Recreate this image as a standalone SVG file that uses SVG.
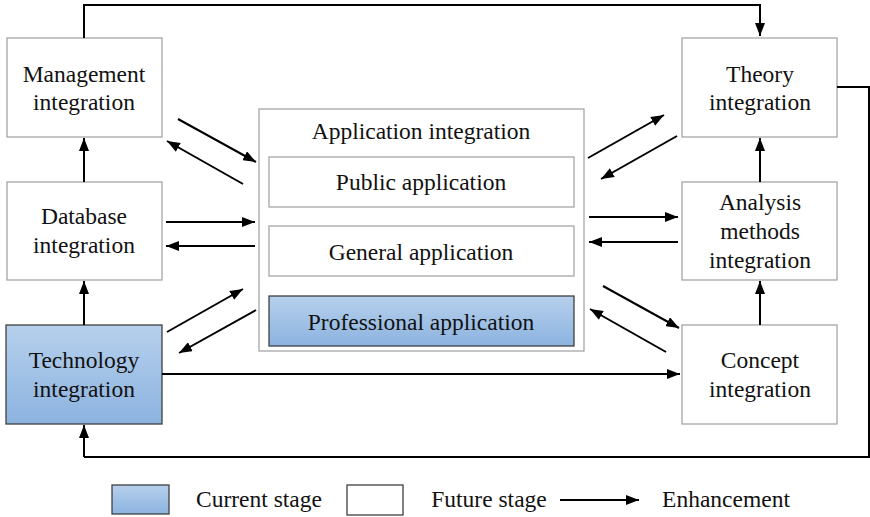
<svg xmlns="http://www.w3.org/2000/svg" width="870" height="517" viewBox="0 0 870 517">
<defs>
<linearGradient id="blue" x1="0" y1="0" x2="0" y2="1">
<stop offset="0" stop-color="#B6D0EC"/>
<stop offset="1" stop-color="#8CB3E0"/>
</linearGradient>
<marker id="ah" viewBox="0 0 13 10" refX="13" refY="5" markerWidth="13" markerHeight="10" markerUnits="userSpaceOnUse" orient="auto">
<path d="M0,0 L13,5 L0,10 z" fill="#000"/>
</marker>
<style>
.box{fill:#fff;stroke:#a6a6a6;stroke-width:1.3}
.cur{fill:url(#blue);stroke:#404040;stroke-width:1.3}
text{font-family:"Liberation Serif","Times New Roman",serif;font-size:23.5px;fill:#111;text-anchor:middle}
.c line,.c path{stroke:#000;stroke-width:2;fill:none}
.a{marker-end:url(#ah)}
</style>
</defs>
<rect width="870" height="517" fill="#fff"/>

<g id="management"><rect class="box" x="7" y="38" width="155" height="99"/><text x="84" y="82">Management</text><text x="84" y="110">integration</text></g>
<g id="database"><rect class="box" x="7" y="182" width="155" height="98"/><text x="84" y="224">Database</text><text x="84" y="253">integration</text></g>
<g id="technology"><rect class="cur" x="6" y="325" width="156" height="99"/><text x="84" y="368">Technology</text><text x="84" y="397">integration</text></g>
<g id="theory"><rect class="box" x="682" y="38" width="155" height="99"/><text x="760" y="82">Theory</text><text x="760" y="110">integration</text></g>
<g id="analysis"><rect class="box" x="682" y="182" width="155" height="98"/><text x="760" y="210">Analysis</text><text x="760" y="239">methods</text><text x="760" y="268">integration</text></g>
<g id="concept"><rect class="box" x="682" y="325" width="155" height="99"/><text x="760" y="368">Concept</text><text x="760" y="397">integration</text></g>
<g id="application"><rect class="box" x="259" y="109" width="325" height="242"/><text x="421" y="139">Application integration</text>
<g id="public"><rect class="box" x="269" y="157" width="305" height="50"/><text x="421" y="190">Public application</text></g>
<g id="general"><rect class="box" x="269" y="226" width="305" height="50"/><text x="421" y="260">General application</text></g>
<g id="professional"><rect class="cur" x="269" y="296" width="305" height="50"/><text x="421" y="330">Professional application</text></g>
</g>

<g id="connectors" class="c">
<path class="a" d="M84,38 V5 H760 V36"/>
<path d="M837,87 H869 V457 H84"/>
<path class="a" d="M84,457 V425"/>
<line class="a" x1="84" y1="325" x2="84" y2="281"/>
<line class="a" x1="84" y1="182" x2="84" y2="138"/>
<line class="a" x1="760" y1="325" x2="760" y2="281"/>
<line class="a" x1="760" y1="182" x2="760" y2="138"/>
<line class="a" x1="162" y1="374" x2="680" y2="374"/>
<line class="a" x1="178" y1="119" x2="256" y2="162"/>
<line class="a" x1="243" y1="184" x2="167" y2="141"/>
<line class="a" x1="166" y1="222" x2="255" y2="222"/>
<line class="a" x1="255" y1="246" x2="166" y2="246"/>
<line class="a" x1="167" y1="332" x2="243" y2="289"/>
<line class="a" x1="256" y1="310" x2="179" y2="353"/>
<line class="a" x1="588" y1="158" x2="664" y2="115"/>
<line class="a" x1="677" y1="136" x2="601" y2="179"/>
<line class="a" x1="589" y1="217" x2="678" y2="217"/>
<line class="a" x1="678" y1="242" x2="589" y2="242"/>
<line class="a" x1="603" y1="286" x2="679" y2="328"/>
<line class="a" x1="666" y1="352" x2="590" y2="309"/>
</g>

<g id="legend">
<rect class="cur" x="112" y="485" width="57" height="29"/>
<text x="259" y="507">Current stage</text>
<rect class="box" x="347" y="485" width="56" height="30" style="stroke:#404040"/>
<text x="489" y="507">Future stage</text>
<line x1="560" y1="500" x2="639" y2="500" stroke="#000" stroke-width="2" marker-end="url(#ah)"/>
<text x="726" y="507">Enhancement</text>
</g>
</svg>
